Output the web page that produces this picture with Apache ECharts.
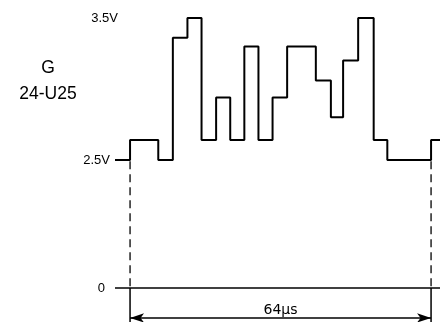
<!DOCTYPE html>
<html>
<head>
<meta charset="utf-8">
<script src="https://cdn.jsdelivr.net/npm/echarts@6/dist/echarts.min.js"></script>
<style>html,body{margin:0;padding:0;background:#fff}#c{width:440px;height:322px}</style>
</head>
<body>
<div id="c"></div>
<script>
// step start times (µs) and voltage held from each start time
const times  = [-3.2, 0, 6.0, 9.1, 12.2, 15.2, 18.3, 21.3, 24.3, 27.3, 30.3, 33.4, 39.5, 42.7, 45.3, 48.5, 51.8, 54.7, 64.0, 65.9];
const levels = [2.5, 2.64, 2.5, 3.36, 3.5, 2.64, 2.94, 2.64, 3.30, 2.64, 2.94, 3.30, 3.06, 2.80, 3.20, 3.5, 2.64, 2.5, 2.64, 2.64];
const tickValues = [0, 2.5, 3.5];
const tickLabels = ['0', '2.5V', '3.5V'];
const lineStart = 0, lineEnd = 64;      // µs, one line period
const spanLabel = '64µs';
const titleLines = ['G', '24-U25'];
const baseLevel = 2.5;
const arrowLevel = -0.211;

const wave = times.map((t, i) => [t, levels[i]]);

const chart = echarts.init(document.getElementById('c'), null, {renderer: 'canvas'});
chart.setOption({
  animation: false,
  backgroundColor: '#fff',
  title: {
    text: titleLines.join('\n'),
    left: 43, top: 50.5, textAlign: 'center',
    textStyle: {fontFamily: 'Liberation Sans, Arial', fontSize: 17.5, fontWeight: 'normal', color: '#000', lineHeight: 25.5}
  },
  grid: {left: 115, right: 0, top: 3.8, bottom: 0, containLabel: false},
  xAxis: {
    type: 'value', min: -3.2, max: 65.9,
    show: false
  },
  yAxis: {
    type: 'value', min: -0.24, max: 3.6,
    breaks: [{start: 0.1, end: 2.3, gap: '26.84%'}],
    breakArea: {show: false, itemStyle: {opacity: 0, borderWidth: 0}},
    axisLine: {show: false}, axisTick: {show: false}, splitLine: {show: false},
    axisLabel: {
      customValues: tickValues,
      hideOverlap: false,
      margin: -3,
      fontFamily: 'Liberation Sans, Arial', fontSize: 13, color: '#000',
      formatter: function (v) {
        const i = tickValues.indexOf(v);
        const key = ['z', 'b', 't'][i];
        return '{' + key + '|' + tickLabels[i] + '}';
      },
      rich: {
        z: {fontFamily: 'Liberation Sans, Arial', fontSize: 13, color: '#000', padding: [0, 13, 0, 0]},
        b: {fontFamily: 'Liberation Sans, Arial', fontSize: 13, color: '#000', padding: [0, 8, 0, 0]},
        t: {fontFamily: 'Liberation Sans, Arial', fontSize: 13, color: '#000', padding: [0, 0, 0, 0]}
      }
    }
  },
  series: [
    {
      type: 'line', data: wave, step: 'end', showSymbol: false, silent: true,
      lineStyle: {color: '#000', width: 2}
    },
    {
      type: 'line', data: [[times[0], 0], [times[times.length - 1], 0]], showSymbol: false, silent: true,
      lineStyle: {color: '#000', width: 1.5},
      markLine: {
        silent: true, symbol: ['arrow', 'arrow'], symbolSize: [7, 14],
        lineStyle: {color: '#000', width: 1.5, type: 'solid'},
        label: {show: true, position: 'middle', formatter: spanLabel, distance: 1,
          fontFamily: 'DejaVu Sans', fontSize: 14, color: '#000'},
        data: [[{coord: [lineStart, arrowLevel]}, {coord: [lineEnd, arrowLevel]}]]
      }
    },
    {
      type: 'line', data: [[lineStart, baseLevel - 0.01], [lineStart, 0]], showSymbol: false, silent: true,
      lineStyle: {color: '#000', width: 1.3, type: [8, 5]}
    },
    {
      type: 'line', data: [[lineEnd, baseLevel - 0.01], [lineEnd, 0]], showSymbol: false, silent: true,
      lineStyle: {color: '#000', width: 1.3, type: [8, 5]}
    },
    {
      type: 'line', data: [[lineStart, 0], [lineStart, -0.24]], showSymbol: false, silent: true,
      lineStyle: {color: '#000', width: 1.5}
    },
    {
      type: 'line', data: [[lineEnd, 0], [lineEnd, -0.24]], showSymbol: false, silent: true,
      lineStyle: {color: '#000', width: 1.5}
    }
  ]
});
</script>
</body>
</html>
